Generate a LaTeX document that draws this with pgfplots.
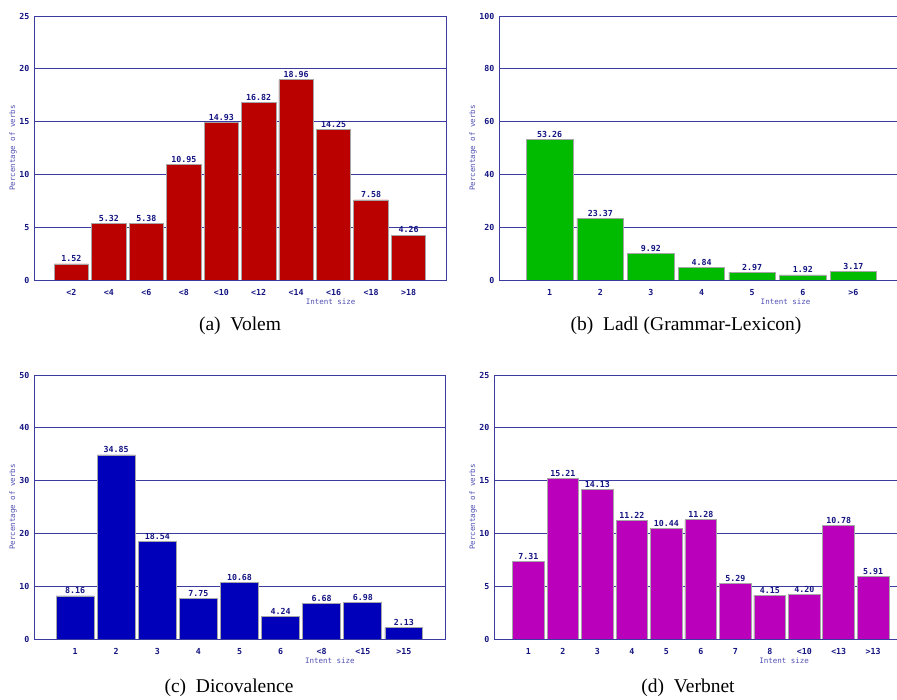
\documentclass[border=0pt]{standalone}
\usepackage{fontspec}
\setmainfont{Liberation Serif}
\newfontfamily\pixfont{DejaVu Sans Mono}
\usepackage{pgfplots}
\pgfplotsset{compat=1.18}
\definecolor{navy}{RGB}{20,20,130}
\definecolor{gridc}{RGB}{60,60,160}
\definecolor{labc}{RGB}{80,80,180}
\definecolor{barred}{RGB}{187,0,0}
\definecolor{bargreen}{RGB}{0,187,0}
\definecolor{barblue}{RGB}{0,0,187}
\definecolor{barmag}{RGB}{187,0,187}
\pgfplotsset{panel/.style={
  scale only axis, ybar, bar width=0.92, ymin=0, enlargelimits=false,
  xtick=data, ymajorgrids, grid style={gridc, line width=0.8bp},
  axis line style={gridc, line width=0.8bp},
  major tick length=0,
  /pgf/number format/assume math mode=true,
  ticklabel style={font=\pixfont\bfseries\fontsize{8.3bp}{10bp}\selectfont, text=navy},
  xticklabel style={yshift=-6bp},
  yticklabel style={xshift=-1bp},
  ylabel={Percentage of verbs}, xlabel={Intent size},
  label style={font=\pixfont\fontsize{7.5bp}{9bp}\selectfont, text=labc},
  xlabel style={at={(axis description cs:0.72,0)}, anchor=center, yshift=-22bp},
  nodes near coords={\pgfmathprintnumber[fixed,fixed zerofill,precision=2]{\pgfplotspointmeta}},
  nodes near coords style={font=\pixfont\bfseries\fontsize{8.3bp}{10bp}\selectfont, text=navy, inner sep=1.5bp},
  every axis plot/.append style={draw=gray!70, line width=0.8bp},
}}
\begin{document}
\begin{tikzpicture}
\useasboundingbox (0,0) rectangle (897bp,700bp);
% (a) Volem
\begin{axis}[panel, at={(34bp,420bp)}, anchor=south west, width=412bp, height=264bp,
  ylabel style={at={(axis description cs:-0.051,0.5)}, anchor=center},
  xmin=-1, xmax=10, ymax=25, ytick={0,5,...,25},
  xticklabels={<2,<4,<6,<8,<10,<12,<14,<16,<18,>18}]
\addplot[fill=barred] coordinates {(0,1.52) (1,5.32) (2,5.38) (3,10.95) (4,14.93) (5,16.82) (6,18.96) (7,14.25) (8,7.58) (9,4.26)};
\end{axis}
% (b) Ladl
\begin{axis}[panel, at={(499bp,420bp)}, anchor=south west, width=398bp, height=264bp,
  axis x line*=bottom, axis y line*=left,
  ylabel style={at={(axis description cs:-0.065,0.5)}, anchor=center},
  xmin=-1, xmax=6.86, ymax=100, ytick={0,20,...,100},
  xticklabels={1,2,3,4,5,6,>6}]
\addplot[fill=bargreen] coordinates {(0,53.26) (1,23.37) (2,9.92) (3,4.84) (4,2.97) (5,1.92) (6,3.17)};
\end{axis}
% (c) Dicovalence
\begin{axis}[panel, at={(34bp,61bp)}, anchor=south west, width=411bp, height=264bp,
  ylabel style={at={(axis description cs:-0.051,0.5)}, anchor=center},
  xmin=-1, xmax=9, ymax=50, ytick={0,10,...,50},
  xticklabels={1,2,3,4,5,6,<8,<15,>15}]
\addplot[fill=barblue] coordinates {(0,8.16) (1,34.85) (2,18.54) (3,7.75) (4,10.68) (5,4.24) (6,6.68) (7,6.98) (8,2.13)};
\end{axis}
% (d) Verbnet
\begin{axis}[panel, at={(494bp,61bp)}, anchor=south west, width=403bp, height=264bp,
  axis x line*=bottom, axis y line*=left,
  ylabel style={at={(axis description cs:-0.052,0.5)}, anchor=center},
  xmin=-1, xmax=10.69, ymax=25, ytick={0,5,...,25},
  xticklabels={1,2,3,4,5,6,7,8,<10,<13,>13}]
\addplot[fill=barmag] coordinates {(0,7.31) (1,15.21) (2,14.13) (3,11.22) (4,10.44) (5,11.28) (6,5.29) (7,4.15) (8,4.20) (9,10.78) (10,5.91)};
\end{axis}
\node[font=\fontsize{19.5bp}{22bp}\selectfont] at (240bp,374bp) {(a)\ \ Volem};
\node[font=\fontsize{19.5bp}{22bp}\selectfont] at (686bp,374bp) {(b)\ \ Ladl (Grammar-Lexicon)};
\node[font=\fontsize{19.5bp}{22bp}\selectfont] at (229bp,12bp) {(c)\ \ Dicovalence};
\node[font=\fontsize{19.5bp}{22bp}\selectfont] at (688bp,12bp) {(d)\ \ Verbnet};
\end{tikzpicture}
\end{document}
